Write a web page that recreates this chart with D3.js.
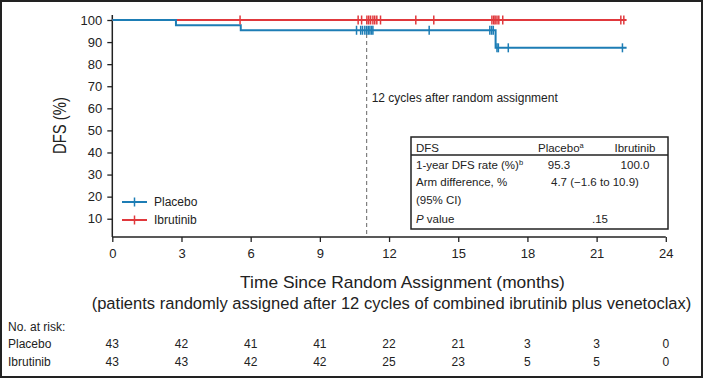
<!DOCTYPE html>
<html>
<head>
<meta charset="utf-8">
<script src="https://cdn.jsdelivr.net/npm/d3@7"></script>
<style>
html,body{margin:0;padding:0;background:#fff;}
svg{display:block;}
text{font-family:"Liberation Sans",Arial,Helvetica,sans-serif;fill:#222;}
</style>
</head>
<body>
<svg id="chart" width="703" height="378"></svg>
<script>
// ---------- data ----------
const xTicks = [0, 3, 6, 9, 12, 15, 18, 21, 24];
const yTicks = [10, 20, 30, 40, 50, 60, 70, 80, 90, 100];

// Kaplan-Meier step points [month, DFS %]
const placeboSteps = [[0, 100], [2.76, 97.67], [5.57, 95.35], [16.62, 87.4], [22.3, 87.4]];
const ibrutinibSteps = [[0, 100], [22.3, 100]];

// censor marks [month, DFS %]
const placeboCensor = [
  [10.59, 95.35], [10.77, 95.35], [10.85, 95.35], [10.95, 95.35], [11.03, 95.35],
  [11.1, 95.35], [11.17, 95.35], [11.24, 95.35], [11.3, 95.35], [13.74, 95.35],
  [16.37, 95.35], [16.45, 95.35], [16.52, 95.35],
  [16.68, 87.4], [16.74, 87.4], [17.17, 87.4], [22.12, 87.4]
];
const ibrutinibCensor = [
  [5.54, 100], [10.66, 100], [10.81, 100], [11.04, 100], [11.12, 100], [11.2, 100],
  [11.3, 100], [11.38, 100], [11.47, 100], [11.63, 100], [13.16, 100], [13.94, 100],
  [16.46, 100], [16.54, 100], [16.6, 100], [16.68, 100], [16.76, 100], [16.93, 100],
  [22.05, 100], [22.18, 100]
];

const cycleMarkMonth = 11.03;
const cycleLabel = "12 cycles after random assignment";

const riskGroups = ["Placebo", "Ibrutinib"];
const riskPlacebo = [43, 42, 41, 41, 22, 21, 3, 3, 0];
const riskIbrutinib = [43, 43, 42, 42, 25, 23, 5, 5, 0];

const tableHeader = ["DFS", "Placebo", "Ibrutinib"];
const tableRateLabel = "1-year DFS rate (%)";
const tableRates = ["95.3", "100.0"];
const tableDiffLabel = ["Arm difference, %", "(95% CI)"];
const tableDiff = "4.7 (\u22121.6 to 10.9)";
const tablePValue = ".15";

const xTitle1 = "Time Since Random Assignment (months)";
const xTitle2 = "(patients randomly assigned after 12 cycles of combined ibrutinib plus venetoclax)";
const yTitle = "DFS (%)";

// ---------- drawing ----------
const BLUE = "#1d7db5", RED = "#e0383c", INK = "#222";
const svg = d3.select("#chart");

svg.append("rect").attr("x", 1).attr("y", 1).attr("width", 701).attr("height", 376)
  .attr("fill", "#fff").attr("stroke", INK).attr("stroke-width", 2);

const x = d3.scaleLinear().domain([0, 24]).range([112.3, 665.8]);
const y = d3.scaleLinear().domain([0, 100]).range([240.8, 20]);
const axisY = 237;

// Y axis
const gy = svg.append("g").attr("transform", `translate(${x(0)},0)`)
  .call(d3.axisLeft(y).tickValues(yTicks).tickSize(5).tickPadding(5));
gy.select(".domain").remove();
gy.selectAll("line").attr("stroke", INK).attr("stroke-width", 1.3);
gy.selectAll("text").attr("font-size", 13).attr("font-family", "Liberation Sans, Arial, sans-serif").attr("fill", INK);
svg.append("line").attr("x1", x(0)).attr("x2", x(0)).attr("y1", 15).attr("y2", axisY)
  .attr("stroke", INK).attr("stroke-width", 1.5);

// X axis
const gx = svg.append("g").attr("transform", `translate(0,${axisY})`)
  .call(d3.axisBottom(x).tickValues(xTicks).tickSize(5).tickPadding(7));
gx.select(".domain").remove();
gx.selectAll("line").attr("stroke", INK).attr("stroke-width", 1.3);
gx.selectAll("text").attr("font-size", 13).attr("font-family", "Liberation Sans, Arial, sans-serif").attr("fill", INK);
svg.append("line").attr("x1", x(0)).attr("x2", x(24)).attr("y1", axisY).attr("y2", axisY)
  .attr("stroke", INK).attr("stroke-width", 1.5);

// dashed reference line
svg.append("line").attr("x1", x(cycleMarkMonth)).attr("x2", x(cycleMarkMonth))
  .attr("y1", y(100)).attr("y2", axisY)
  .attr("stroke", "#666").attr("stroke-width", 1).attr("stroke-dasharray", "4,3");
svg.append("text").attr("x", x(cycleMarkMonth) + 5).attr("y", 102)
  .attr("font-size", 12).text(cycleLabel);

// curves
const line = d3.line().x(d => x(d[0])).y(d => y(d[1])).curve(d3.curveStepAfter);
svg.append("path").datum(ibrutinibSteps).attr("d", line).attr("fill", "none")
  .attr("stroke", RED).attr("stroke-width", 2);
svg.append("path").datum(placeboSteps).attr("d", line).attr("fill", "none")
  .attr("stroke", BLUE).attr("stroke-width", 2);

function censor(data, color) {
  svg.append("g").selectAll("line").data(data).join("line")
    .attr("x1", d => x(d[0])).attr("x2", d => x(d[0]))
    .attr("y1", d => y(d[1]) - 4.5).attr("y2", d => y(d[1]) + 4.5)
    .attr("stroke", color).attr("stroke-width", 1.5);
}
censor(ibrutinibCensor, RED);
censor(placeboCensor, BLUE);

// legend
const legend = [{ name: riskGroups[0], color: BLUE, yy: 202 }, { name: riskGroups[1], color: RED, yy: 220 }];
legend.forEach(l => {
  svg.append("line").attr("x1", 122).attr("x2", 147).attr("y1", l.yy).attr("y2", l.yy)
    .attr("stroke", l.color).attr("stroke-width", 2);
  svg.append("line").attr("x1", 134.5).attr("x2", 134.5).attr("y1", l.yy - 4.5).attr("y2", l.yy + 4.5)
    .attr("stroke", l.color).attr("stroke-width", 1.5);
  svg.append("text").attr("x", 154).attr("y", l.yy + 4.3).attr("font-size", 12).text(l.name);
});

// summary table
const tb = svg.append("g");
tb.append("rect").attr("x", 411).attr("y", 137).attr("width", 257).attr("height", 92)
  .attr("fill", "#fff").attr("stroke", INK).attr("stroke-width", 1.5);
tb.append("line").attr("x1", 411).attr("x2", 668).attr("y1", 155).attr("y2", 155)
  .attr("stroke", INK).attr("stroke-width", 1.3);
const fs = 11.5;
tb.append("text").attr("x", 416).attr("y", 152).attr("font-size", fs).text(tableHeader[0]);
const ph = tb.append("text").attr("x", 538).attr("y", 152).attr("font-size", fs);
ph.append("tspan").text(tableHeader[1]);
ph.append("tspan").attr("font-size", 7.5).attr("dy", -4.5).text("a");
tb.append("text").attr("x", 635).attr("y", 152).attr("font-size", fs).attr("text-anchor", "middle").text(tableHeader[2]);

const r1 = tb.append("text").attr("x", 416).attr("y", 169).attr("font-size", fs);
r1.append("tspan").text(tableRateLabel);
r1.append("tspan").attr("font-size", 7.5).attr("dy", -4.5).text("b");
tb.append("text").attr("x", 559).attr("y", 169).attr("font-size", fs).attr("text-anchor", "middle").text(tableRates[0]);
tb.append("text").attr("x", 635).attr("y", 169).attr("font-size", fs).attr("text-anchor", "middle").text(tableRates[1]);

tb.append("text").attr("x", 416).attr("y", 186).attr("font-size", fs).text(tableDiffLabel[0]);
tb.append("text").attr("x", 595).attr("y", 186).attr("font-size", fs).attr("text-anchor", "middle").text(tableDiff);
tb.append("text").attr("x", 416).attr("y", 204).attr("font-size", fs).text(tableDiffLabel[1]);

const pv = tb.append("text").attr("x", 416).attr("y", 222.5).attr("font-size", fs);
pv.append("tspan").attr("font-style", "italic").text("P");
pv.append("tspan").text(" value");
tb.append("text").attr("x", 600).attr("y", 222.5).attr("font-size", fs).attr("text-anchor", "middle").text(tablePValue);

// axis titles (condensed face, sized to the reference widths)
const narrow = "'Liberation Sans Narrow','Arial Narrow','DejaVu Sans Condensed',sans-serif";
function fitTitle(sel, target, minSize) {
  sel.attr("font-family", narrow).attr("font-size", 18);
  const w = sel.node().getComputedTextLength();
  let size = 18;
  if (w > target) size = Math.max(minSize, 18 * target / w);
  sel.attr("font-size", size);
  const w2 = sel.node().getComputedTextLength();
  if (Math.abs(w2 - target) > 1) sel.attr("textLength", target).attr("lengthAdjust", "spacingAndGlyphs");
  return sel;
}
fitTitle(svg.append("text").attr("x", 402.5).attr("y", 288).attr("text-anchor", "middle").text(xTitle1), 325, 14);
fitTitle(svg.append("text").attr("x", 391.5).attr("y", 308.5).attr("text-anchor", "middle").text(xTitle2), 600, 14);
fitTitle(svg.append("text").attr("transform", "translate(66,125.5) rotate(-90)")
  .attr("text-anchor", "middle").text(yTitle), 57, 18);
</script>
<script>
// number at risk
(function () {
  const svg = d3.select("#chart");
  const x = d3.scaleLinear().domain([0, 24]).range([112.3, 665.8]);
  svg.append("text").attr("x", 8).attr("y", 331).attr("font-size", 12).text("No. at risk:");
  const riskRows = [riskPlacebo, riskIbrutinib];
  riskRows.forEach((row, i) => {
    const yy = 348.3 + i * 17.7;
    svg.append("text").attr("x", 8).attr("y", yy).attr("font-size", 12).text(riskGroups[i]);
    svg.append("g").selectAll("text").data(row).join("text")
      .attr("x", (d, j) => x(xTicks[j])).attr("y", yy)
      .attr("text-anchor", "middle").attr("font-size", 12).text(d => d);
  });
})();
</script>
</body>
</html>
